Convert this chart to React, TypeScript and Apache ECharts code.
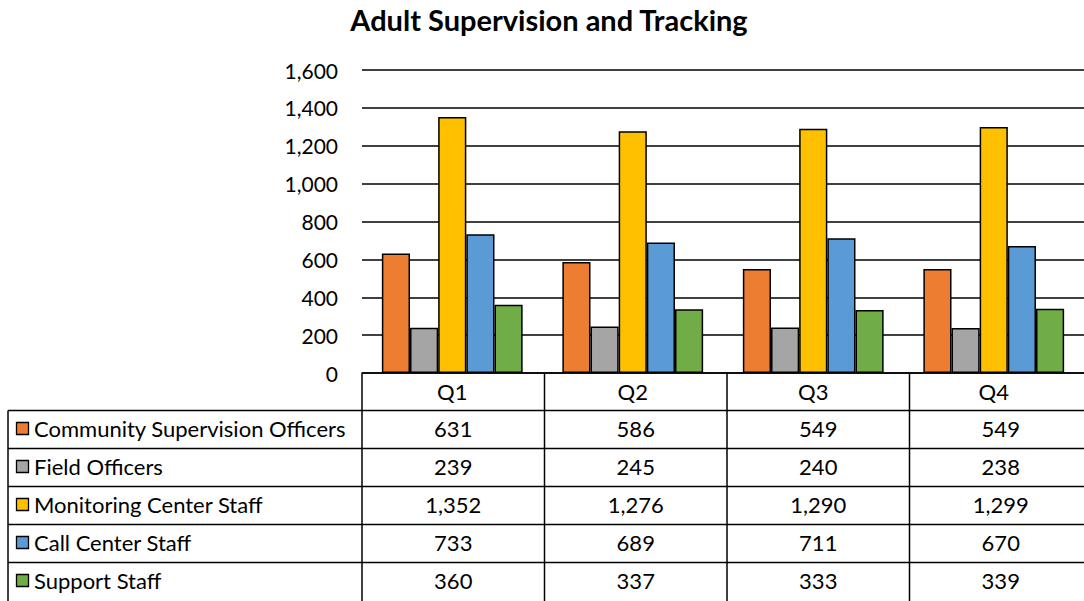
import React, { useEffect, useRef } from "react";
import * as echarts from "echarts";

const categories = ["Q1", "Q2", "Q3", "Q4"];
const seriesNames = [
  "Community Supervision Officers",
  "Field Officers",
  "Monitoring Center Staff",
  "Call Center Staff",
  "Support Staff",
];
const communitySupervisionOfficers = [631, 586, 549, 549];
const fieldOfficers = [239, 245, 240, 238];
const monitoringCenterStaff = [1352, 1276, 1290, 1299];
const callCenterStaff = [733, 689, 711, 670];
const supportStaff = [360, 337, 333, 339];
const seriesValues = [
  communitySupervisionOfficers,
  fieldOfficers,
  monitoringCenterStaff,
  callCenterStaff,
  supportStaff,
];
const colors = ["#ED7D31", "#A5A5A5", "#FFC000", "#5B9BD5", "#70AD47"];
const yTicks = { min: 0, max: 1600, interval: 200 };

const FONT = "Lato";
const TABLE_FS = 22;
const AXIS_FS = 21;

export default function App() {
  const ref = useRef<HTMLDivElement>(null);
  useEffect(() => {
    if (!ref.current) return;
    const chart = echarts.init(ref.current, null, { renderer: "svg" });

    const gridLeft = 362;
    const gridTop = 70;
    const gridWidth = 730;
    const gridHeight = 303;
    const axisY = gridTop + gridHeight;
    const colW = gridWidth / categories.length;
    const colX = [gridLeft];
    for (let i = 1; i <= categories.length; i++) colX.push(gridLeft + colW * i);
    const headerH = 37.5;
    const rowH = 38;
    const rowY: number[] = [axisY + headerH];
    for (let i = 1; i <= seriesNames.length; i++) rowY.push(axisY + headerH + rowH * i);
    const tableLeft = 8;
    const stroke = { stroke: "#000", lineWidth: 1.5 };

    const graphics: any[] = [];
    for (let i = 0; i < seriesNames.length; i++) {
      graphics.push({
        type: "line",
        shape: { x1: tableLeft, y1: rowY[i], x2: colX[colX.length - 1], y2: rowY[i] },
        style: stroke,
        z: 10,
      });
    }
    graphics.push({
      type: "line",
      shape: { x1: tableLeft, y1: rowY[0], x2: tableLeft, y2: 601 },
      style: stroke,
      z: 10,
    });
    for (let i = 0; i < colX.length; i++) {
      graphics.push({
        type: "line",
        shape: { x1: colX[i], y1: axisY, x2: colX[i], y2: 601 },
        style: stroke,
        z: 10,
      });
    }
    seriesNames.forEach((name, r) => {
      const cy = rowY[r] + rowH / 2;
      graphics.push({
        type: "rect",
        shape: { x: 16.5, y: cy - 7, width: 12, height: 12 },
        style: { fill: colors[r], stroke: "#000", lineWidth: 1.3 },
        z: 10,
      });
      graphics.push({
        type: "text",
        x: 34,
        y: cy - 1,
        style: {
          text: name,
          fill: "#000",
          font: `${TABLE_FS}px ${FONT}`,
          textAlign: "left",
          textVerticalAlign: "middle",
        },
        z: 10,
      });
      seriesValues[r].forEach((v, c) => {
        graphics.push({
          type: "text",
          x: colX[c] + colW / 2,
          y: cy - 1,
          style: {
            text: v.toLocaleString("en-US"),
            fill: "#000",
            font: `${TABLE_FS}px ${FONT}`,
            textAlign: "center",
            textVerticalAlign: "middle",
          },
          z: 10,
        });
      });
    });

    chart.setOption({
      animation: false,
      backgroundColor: "#fff",
      title: {
        text: "Adult Supervision and Tracking",
        left: 544,
        textAlign: "center",
        top: 0,
        textStyle: { fontFamily: FONT, fontWeight: "bold", fontSize: 29, color: "#000" },
      },
      grid: { left: gridLeft, top: gridTop, width: gridWidth, height: gridHeight },
      xAxis: {
        type: "category",
        data: categories,
        axisLine: { lineStyle: { color: "#000", width: 1.5 } },
        axisTick: { show: false },
        axisLabel: {
          margin: 7,
          color: "#000",
          fontFamily: FONT,
          fontSize: TABLE_FS,
        },
      },
      yAxis: {
        type: "value",
        min: yTicks.min,
        max: yTicks.max,
        interval: yTicks.interval,
        axisLine: { show: false },
        axisTick: { show: false },
        splitLine: { lineStyle: { color: "#000", width: 1.5 } },
        axisLabel: {
          margin: 24,
          color: "#000",
          fontFamily: FONT,
          fontSize: AXIS_FS,
          formatter: (v: number) => v.toLocaleString("en-US"),
        },
      },
      series: seriesNames.map((name, i) => ({
        type: "bar",
        name,
        data: seriesValues[i],
        barGap: "0%",
        barCategoryGap: "22%",
        itemStyle: { color: colors[i], borderColor: "#000", borderWidth: 1.5 },
      })),
      graphic: graphics,
    });
    return () => chart.dispose();
  }, []);
  return (
    <div
      ref={ref}
      style={{ position: "fixed", left: 0, top: 0, width: 1084, height: 601 }}
    />
  );
}
